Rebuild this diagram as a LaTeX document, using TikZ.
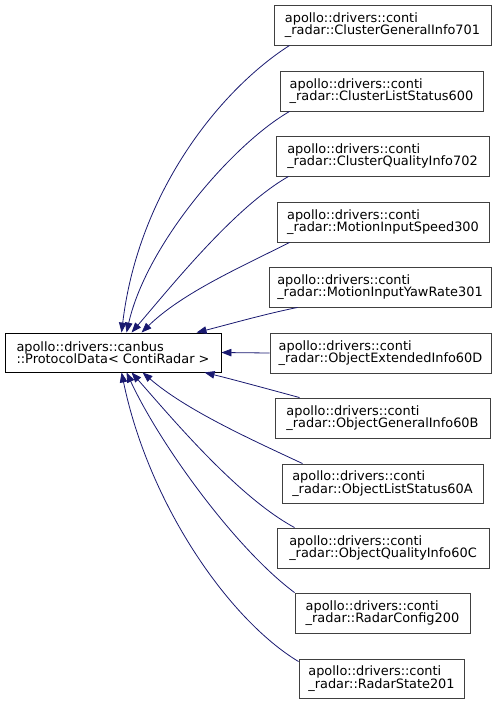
\documentclass[tikz,border=0pt]{standalone}
\usepackage{fontspec}
\setmainfont{DejaVu Sans}
\usetikzlibrary{arrows.meta}
\definecolor{edgeblue}{HTML}{191970}
\definecolor{boxgray}{HTML}{404040}
\tikzset{
  cls/.style={draw=boxgray, line width=0.9pt, fill=white, inner sep=0pt, align=left,
    minimum height=40pt, font=\fontsize{12.9}{12.6}\selectfont},
  basecls/.style={cls, draw=black},
  inh/.style={draw=edgeblue, line width=0.8pt, -{Triangle[length=10pt,width=7.5pt]}, edgeblue},
}
\begin{document}
\begin{tikzpicture}[x=1pt,y=-1pt]
\useasboundingbox (0,0) rectangle (501,705);
\node[basecls, minimum width=216pt, minimum height=39pt] (base) at (113,352.5) {apollo::drivers::canbus\\::ProtocolData< ContiRadar >};
\node[cls, minimum width=217pt] (c1) at (382.5,25) {apollo::drivers::conti\\\_radar::ClusterGeneralInfo701};
\node[cls, minimum width=203pt] (c2) at (381.5,91) {apollo::drivers::conti\\\_radar::ClusterListStatus600};
\node[cls, minimum width=213pt] (c3) at (382.5,156) {apollo::drivers::conti\\\_radar::ClusterQualityInfo702};
\node[cls, minimum width=212pt] (c4) at (383,222) {apollo::drivers::conti\\\_radar::MotionInputSpeed300};
\node[cls, minimum width=222pt] (c5) at (380,287) {apollo::drivers::conti\\\_radar::MotionInputYawRate301};
\node[cls, minimum width=221pt] (c6) at (380.5,353) {apollo::drivers::conti\\\_radar::ObjectExtendedInfo60D};
\node[cls, minimum width=215pt] (c7) at (382.5,418) {apollo::drivers::conti\\\_radar::ObjectGeneralInfo60B};
\node[cls, minimum width=201pt, minimum height=39pt] (c8) at (382.5,483.5) {apollo::drivers::conti\\\_radar::ObjectListStatus60A};
\node[cls, minimum width=212pt] (c9) at (383,548) {apollo::drivers::conti\\\_radar::ObjectQualityInfo60C};
\node[cls, minimum width=175pt] (c10) at (382.5,613) {apollo::drivers::conti\\\_radar::RadarConfig200};
\node[cls, minimum width=165pt, minimum height=39pt] (c11) at (381.5,678.5) {apollo::drivers::conti\\\_radar::RadarState201};
% edges above
\draw[inh] ([xshift=16pt]c1.south west) .. controls (222.8,88) and (138.8,189) .. ([xshift=117pt]base.north west);
\draw[inh] ([xshift=10pt]c2.south west) .. controls (233,144) and (146.6,244) .. ([xshift=122pt]base.north west);
\draw[inh] ([xshift=13pt]c3.south west) .. controls (234.7,207) and (171.5,286) .. ([xshift=127pt]base.north west);
\draw[inh] ([xshift=13pt]c4.south west) .. controls (241,267) and (182,293) .. ([xshift=137pt]base.north west);
\draw[inh] ([xshift=29pt]c5.south west) .. controls (265,314) and (230,324) .. ([xshift=192pt]base.north west);
\draw[inh] (c6.west) -- (base.east);
% edges below
\draw[inh] ([xshift=25pt]c7.north west) .. controls (268,389) and (235,380) .. ([xshift=200pt]base.south west);
\draw[inh] ([xshift=21pt]c8.north west) .. controls (250,439) and (186,410) .. ([xshift=138pt]base.south west);
\draw[inh] ([xshift=18pt]c9.north west) .. controls (238,497) and (173,419.5) .. ([xshift=127pt]base.south west);
\draw[inh] (c10.north west) .. controls (236,549) and (160.6,445.6) .. ([xshift=122pt]base.south west);
\draw[inh] ([yshift=-3pt]c11.north west) .. controls (228,619) and (148.5,503) .. ([xshift=117pt]base.south west);
\end{tikzpicture}
\end{document}
